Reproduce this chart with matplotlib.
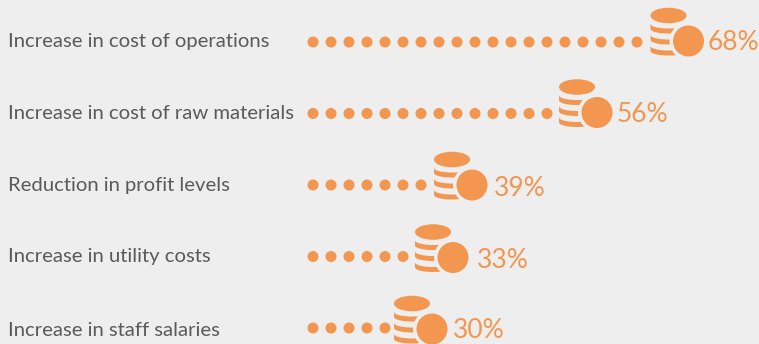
import numpy as np
import matplotlib
matplotlib.use("Agg")
import matplotlib.pyplot as plt
from matplotlib.patches import Circle, Ellipse, Polygon

categories = ["Increase in cost of operations", "Increase in cost of raw materials",
              "Reduction in profit levels", "Increase in utility costs", "Increase in staff salaries"]
percentages = [68, 56, 39, 33, 30]
dot_counts = [19, 14, 7, 6, 5]

ORANGE = "#F29650"
BG = "#EEEEEE"
TEXT = "#5A5A5A"
FONT = "Lato"

# Per-row nudges of the hand-placed elements
icon_gap = [51.5, 50, 51, 50, 47]
icon_dy = [-1, -1, 0, 1, 1]
label_dy = [0, 0, 0, 0, 3]
pct_gap = [19, 19.5, 21.5, 23.5, 20.5]
pct_dy = [0, 1.5, 3, 4, 3]

fig = plt.figure(figsize=(7.59, 3.44), dpi=100, facecolor=BG)
ax = fig.add_axes([0, 0, 1, 1])
ax.set_xlim(0, 759)
ax.set_ylim(344, 0)
ax.axis("off")

ROW_TOP, ROW_STEP = 42, 71.5
DOT_X, DOT_STEP, DOT_R = 313, 18, 5.5


def draw_coins(cx, cy):
    """Stack of coins with one large coin in front, centred on the large coin."""
    sx = cx - 20
    ax.add_patch(Ellipse((sx, cy - 25.5), 36, 15.5, color=ORANGE, lw=0, zorder=3))
    xs = np.linspace(sx - 18, cx - 5, 40)
    arc = 4.5 * np.sqrt(np.clip(1 - ((xs - sx) / 18) ** 2, 0, 1))
    for top in (-17, -6, 5):
        upper = cy + top + arc
        lower = upper + 5
        pts = np.r_[np.c_[xs, upper], np.c_[xs[::-1], lower[::-1]]]
        ax.add_patch(Polygon(pts, closed=True, color=ORANGE, lw=0, zorder=3))
    ax.add_patch(Circle((cx, cy), 19, color=BG, lw=0, zorder=4))
    ax.add_patch(Circle((cx, cy), 15.5, color=ORANGE, lw=0, zorder=5))


for i, (name, pct, n) in enumerate(zip(categories, percentages, dot_counts)):
    y = ROW_TOP + ROW_STEP * i
    ax.text(7.5, y + label_dy[i], name, fontsize=14.6, family=FONT,
            color=TEXT, va="center", ha="left")
    for k in range(n):
        ax.add_patch(Circle((DOT_X + DOT_STEP * k, y), DOT_R, color=ORANGE, lw=0, zorder=2))
    cx = DOT_X + DOT_STEP * (n - 1) + icon_gap[i]
    draw_coins(cx, y + icon_dy[i])
    ax.text(cx + pct_gap[i], y + pct_dy[i], f"{pct}%", fontsize=19, family=FONT,
            color=ORANGE, va="center", ha="left", zorder=6)

fig.savefig("out.png", dpi=100, facecolor=BG)
